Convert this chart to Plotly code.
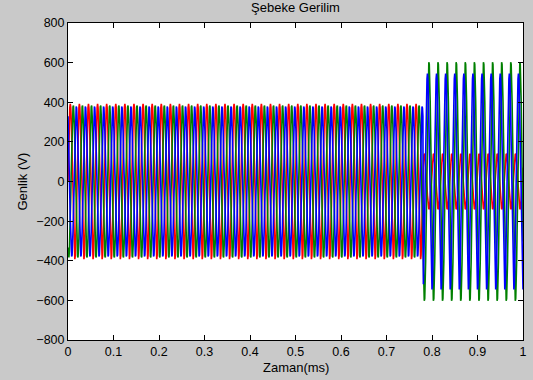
import numpy as np
import plotly.graph_objects as go

# ---- data ----
phase_names = ["Va", "Vb", "Vc"]
phase_colors = ["#ff0000", "#008000", "#0000ff"]
freq_hz = 50.0                       # ~9 px per cycle on a 459 px axis
fault_time = 0.781                   # amplitude change near x = 0.78
amp_before = [392, 385, 380]         # peak values before change (V)
angle_before = [0, -120, 120]        # degrees
amp_after = [140, 605, 545]          # peak values after change (V)
angle_after = [30, -150, -90]        # degrees
sample_step = 0.001

x_ticks = [0, 0.1, 0.2, 0.3, 0.4, 0.5, 0.6, 0.7, 0.8, 0.9, 1]
x_tick_text = ["0", "0.1", "0.2", "0.3", "0.4", "0.5", "0.6", "0.7", "0.8", "0.9", "1"]
y_ticks = [-800, -600, -400, -200, 0, 200, 400, 600, 800]

title_text = "Şebeke Gerilim"
x_label = "Zaman(ms)"
y_label = "Genlik (V)"

# ---- build waveforms from the read parameters ----
t = np.arange(0, 1 + sample_step / 2, sample_step)
w = 2 * np.pi * freq_hz

fig = go.Figure()
for name, col, a0, p0, a1, p1 in zip(phase_names, phase_colors, amp_before,
                                     angle_before, amp_after, angle_after):
    v = np.where(t < fault_time,
                 a0 * np.sin(w * t + np.deg2rad(p0)),
                 a1 * np.sin(w * t + np.deg2rad(p1)))
    fig.add_trace(go.Scatter(x=t, y=v, mode="lines", name=name,
                             line=dict(color=col, width=1.6),
                             showlegend=False, hoverinfo="skip"))

font_family = "Liberation Sans, Arial, sans-serif"
axis_common = dict(showline=True, linecolor="black", linewidth=1, mirror="ticks",
                   ticks="inside", ticklen=5, tickcolor="black", tickwidth=1,
                   showgrid=False, zeroline=False,
                   tickfont=dict(family=font_family, size=12.5, color="black"))

fig.update_layout(
    width=533, height=380,
    margin=dict(l=68, r=6, t=23, b=40),
    paper_bgcolor="#c9c9c9", plot_bgcolor="white",
    xaxis=dict(range=[0, 1], tickvals=x_ticks, ticktext=x_tick_text, **axis_common),
    yaxis=dict(range=[-800, 800], tickvals=y_ticks, **axis_common),
    title=dict(text=title_text, x=0.5, xref="paper", xanchor="center",
               y=1 - 7.5 / 380, yref="container", yanchor="middle",
               font=dict(family=font_family, size=13, color="black")),
    annotations=[
        dict(text=x_label, x=0.5, xref="paper", y=0, yref="paper",
             yanchor="middle", yshift=-27, showarrow=False,
             font=dict(family=font_family, size=13, color="black")),
        dict(text=y_label, x=0, xref="paper", y=0.5, yref="paper",
             xanchor="center", xshift=-46, textangle=-90, showarrow=False,
             font=dict(family=font_family, size=13, color="black")),
    ],
)

fig.write_html("out.html")
